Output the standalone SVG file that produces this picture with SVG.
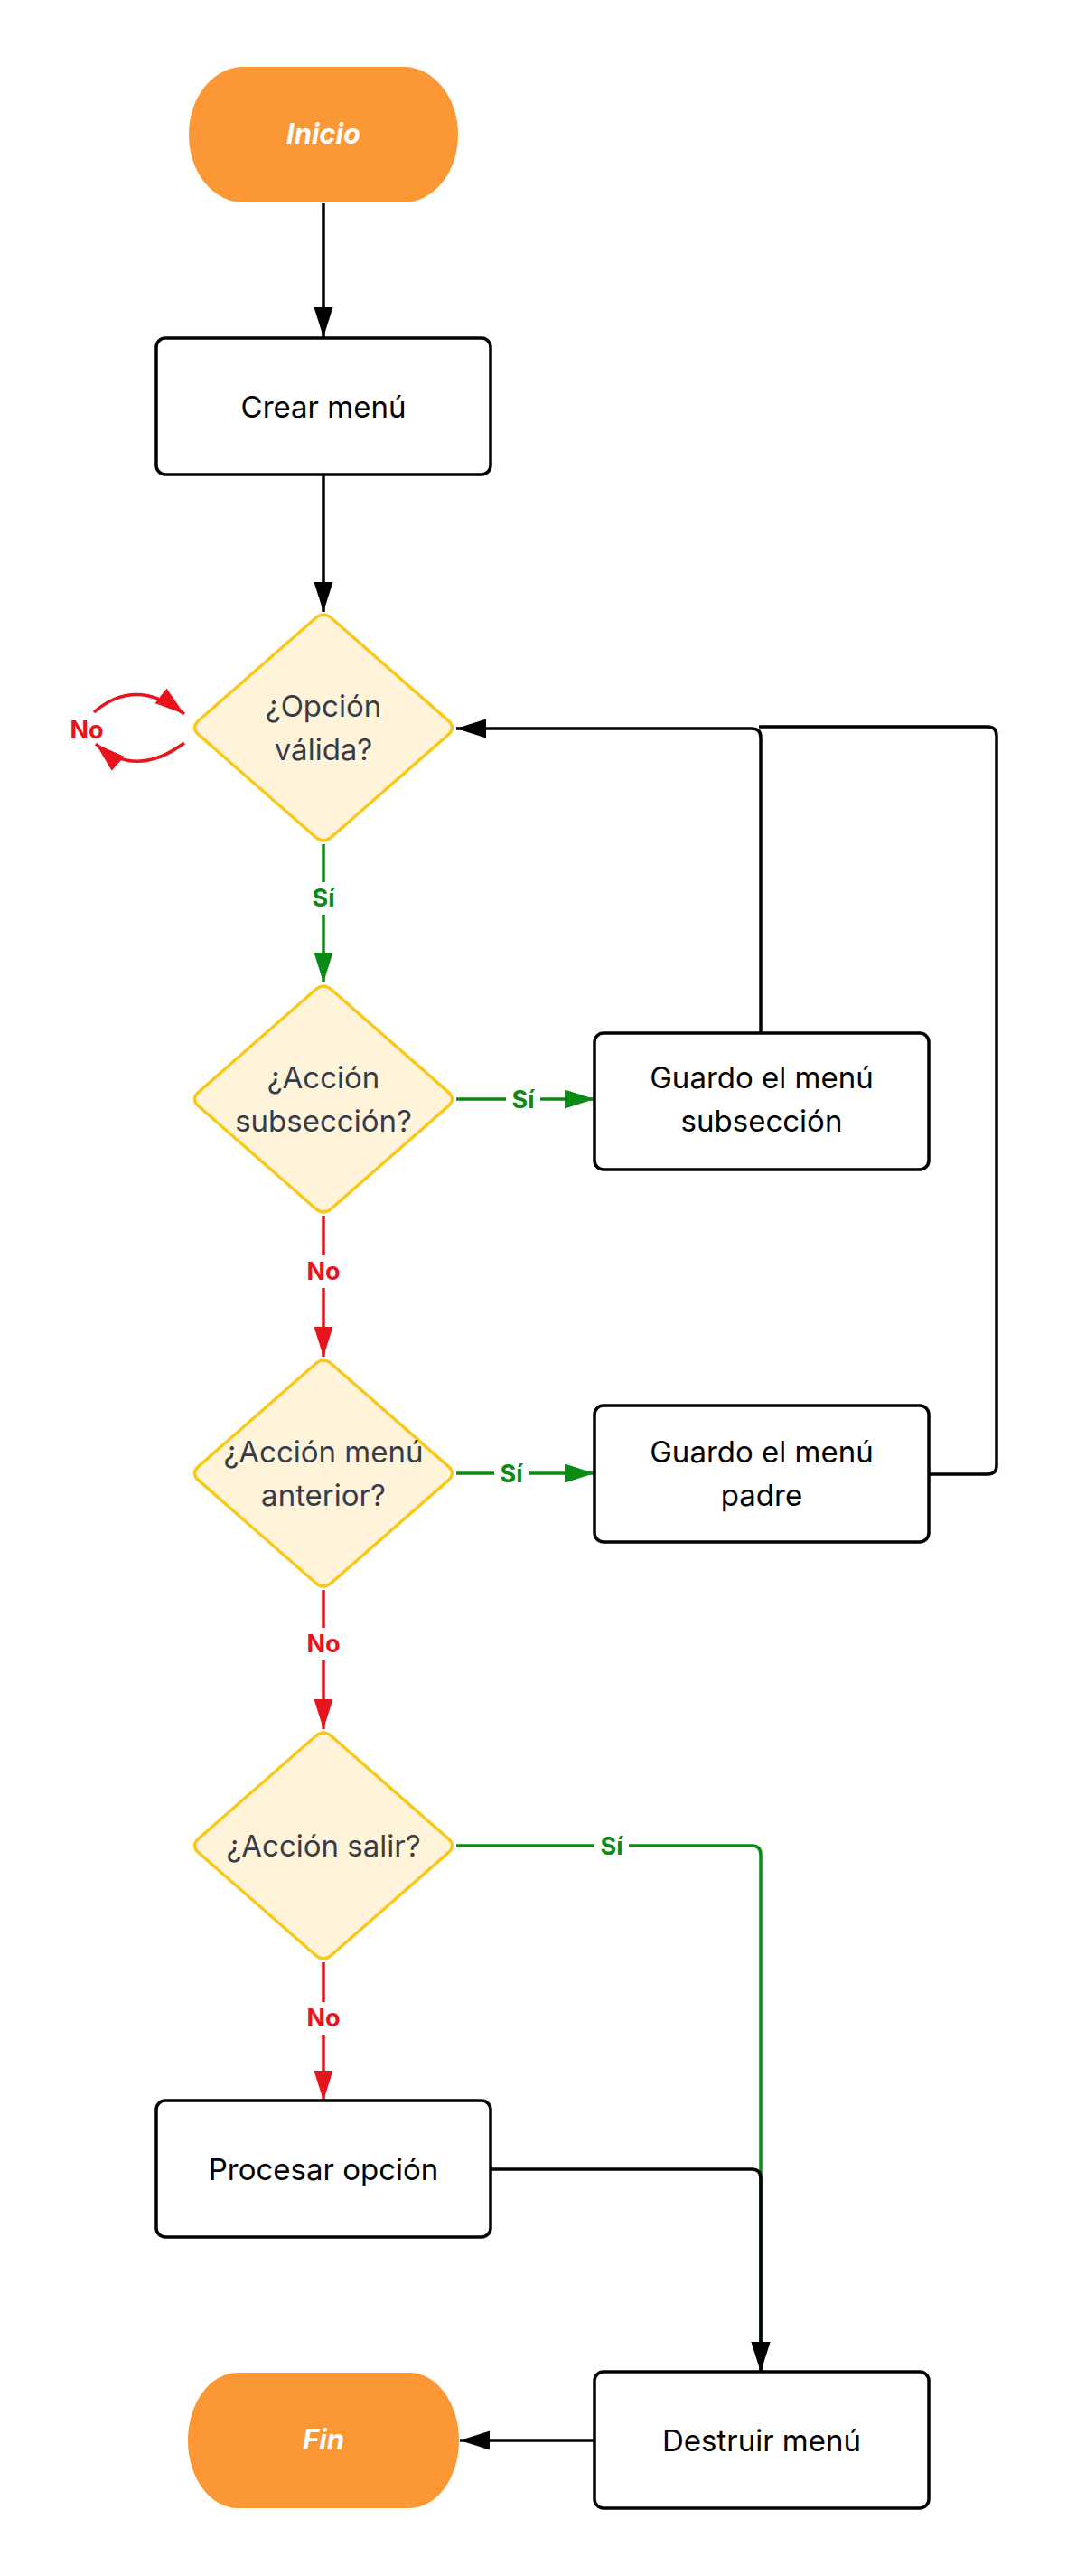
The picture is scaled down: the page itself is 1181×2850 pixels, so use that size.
<svg xmlns="http://www.w3.org/2000/svg" width="1181" height="2850" viewBox="0 0 1181 2850">
<style>
.term{fill:#fb9734}
.termtx{font-family:Inter,"Liberation Sans",sans-serif;font-size:31px;font-weight:700;font-style:italic;fill:#ffffff;text-anchor:middle}
.box{fill:#ffffff;stroke:#000000;stroke-width:3.5}
.boxtx{font-family:Inter,"Liberation Sans",sans-serif;font-size:33px;fill:#000000;text-anchor:middle}
.dia{fill:#fff3da;stroke:#f8c91c;stroke-width:3.5}
.diatx{font-family:Inter,"Liberation Sans",sans-serif;font-size:33px;fill:#373c47;text-anchor:middle}
.c{fill:none;stroke-width:3.5}
.k{stroke:#000000}
.g{stroke:#0b8a15}
.r{stroke:#e8141b}
.lbl{font-family:Inter,"Liberation Sans",sans-serif;font-size:27px;font-weight:700;text-anchor:middle}
.lg{fill:#0b8a15}
.lr{fill:#e8141b}
</style>
<defs>
<marker id="ak" markerUnits="userSpaceOnUse" markerWidth="34" markerHeight="22" refX="33" refY="10.5" orient="auto"><path d="M0,0 L33,10.5 L0,21 Z" fill="#000000"/></marker>
<marker id="ag" markerUnits="userSpaceOnUse" markerWidth="34" markerHeight="22" refX="33" refY="10.5" orient="auto"><path d="M0,0 L33,10.5 L0,21 Z" fill="#0b8a15"/></marker>
<marker id="ar" markerUnits="userSpaceOnUse" markerWidth="34" markerHeight="22" refX="33" refY="10.5" orient="auto"><path d="M0,0 L33,10.5 L0,21 Z" fill="#e8141b"/></marker>
<path id="dshape" d="M-9,-121 Q0,-129 9,-121 L138,-7.9 Q147,0 138,7.9 L9,121 Q0,129 -9,121 L-138,7.9 Q-147,0 -138,-7.9 Z"/>
</defs>

<g id="connectors">
<path class="c k" d="M358,225 L358,373" marker-end="url(#ak)"/>
<path class="c k" d="M358,525 L358,677" marker-end="url(#ak)"/>
<path class="c g" d="M358,934 L358,1087" marker-end="url(#ag)"/>
<path class="c g" d="M505,1216 L658,1216" marker-end="url(#ag)"/>
<path class="c r" d="M358,1345 L358,1501" marker-end="url(#ar)"/>
<path class="c g" d="M505,1630 L658,1630" marker-end="url(#ag)"/>
<path class="c r" d="M358,1759 L358,1913" marker-end="url(#ar)"/>
<path class="c g" d="M505,2042 L832,2042 Q842,2042 842,2052 L842,2624" marker-end="url(#ag)"/>
<path class="c r" d="M358,2171 L358,2324" marker-end="url(#ar)"/>
<path class="c k" d="M543,2400 L832,2400 Q842,2400 842,2410 L842,2624" marker-end="url(#ak)"/>
<path class="c k" d="M658,2700 L509,2700" marker-end="url(#ak)"/>
<path class="c k" d="M842,1143 L842,816 Q842,806 832,806 L505,806" marker-end="url(#ak)"/>
<path class="c k" d="M1028,1631 L1093,1631 Q1103,1631 1103,1621 L1103,814 Q1103,804 1093,804 L840,804"/>
<path class="c r" d="M104,788 Q150,748 204,790" marker-end="url(#ar)"/>
<path class="c r" d="M204,822 Q150,862 106,823" marker-end="url(#ar)"/>
<rect x="336" y="976" width="44" height="36" fill="#ffffff"/>
<text class="lbl lg" x="358" y="1003">Sí</text>
<rect x="560" y="1202" width="38" height="28" fill="#ffffff"/>
<text class="lbl lg" x="579" y="1226">Sí</text>
<rect x="336" y="1389" width="44" height="36" fill="#ffffff"/>
<text class="lbl lr" x="358" y="1416">No</text>
<rect x="547" y="1616" width="38" height="28" fill="#ffffff"/>
<text class="lbl lg" x="566" y="1640">Sí</text>
<rect x="336" y="1801" width="44" height="36" fill="#ffffff"/>
<text class="lbl lr" x="358" y="1828">No</text>
<rect x="658" y="2028" width="38" height="28" fill="#ffffff"/>
<text class="lbl lg" x="677" y="2052">Sí</text>
<rect x="336" y="2215" width="44" height="36" fill="#ffffff"/>
<text class="lbl lr" x="358" y="2242">No</text>
<text class="lbl lr" x="96" y="817">No</text>
</g>

<g id="inicio">
<rect class="term" x="209" y="74" width="298" height="150" rx="60" ry="75"/>
<text class="termtx" x="358" y="159">Inicio</text>
</g>
<g id="crear">
<rect class="box" x="173" y="374" width="370" height="151" rx="10"/>
<text class="boxtx" x="358" y="462">Crear menú</text>
</g>
<g id="opcion-valida">
<use href="#dshape" class="dia" x="358" y="805"/>
<text class="diatx" x="358" y="793">¿Opción</text>
<text class="diatx" x="358" y="841">válida?</text>
</g>
<g id="accion-subseccion">
<use href="#dshape" class="dia" x="358" y="1216"/>
<text class="diatx" x="358" y="1204">¿Acción</text>
<text class="diatx" x="358" y="1252">subsección?</text>
</g>
<g id="guardo-subseccion">
<rect class="box" x="658" y="1143" width="370" height="151" rx="10"/>
<text class="boxtx" x="843" y="1204">Guardo el menú</text>
<text class="boxtx" x="843" y="1252">subsección</text>
</g>
<g id="accion-anterior">
<use href="#dshape" class="dia" x="358" y="1630"/>
<text class="diatx" x="358" y="1618">¿Acción menú</text>
<text class="diatx" x="358" y="1666">anterior?</text>
</g>
<g id="guardo-padre">
<rect class="box" x="658" y="1555" width="370" height="151" rx="10"/>
<text class="boxtx" x="843" y="1618">Guardo el menú</text>
<text class="boxtx" x="843" y="1666">padre</text>
</g>
<g id="accion-salir">
<use href="#dshape" class="dia" x="358" y="2042"/>
<text class="diatx" x="358" y="2054">¿Acción salir?</text>
</g>
<g id="procesar">
<rect class="box" x="173" y="2324" width="370" height="151" rx="10"/>
<text class="boxtx" x="358" y="2412">Procesar opción</text>
</g>
<g id="destruir">
<rect class="box" x="658" y="2624" width="370" height="151" rx="10"/>
<text class="boxtx" x="843" y="2712">Destruir menú</text>
</g>
<g id="fin">
<rect class="term" x="208" y="2625" width="300" height="150" rx="55" ry="75"/>
<text class="termtx" x="358" y="2710">Fin</text>
</g>
</svg>
